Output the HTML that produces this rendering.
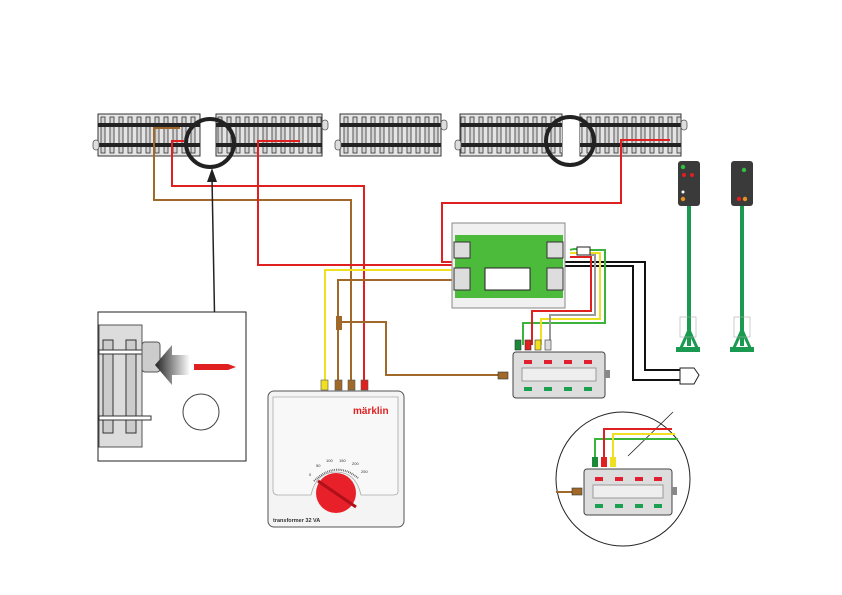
<!DOCTYPE html>
<html><head><meta charset="utf-8"><style>
html,body{margin:0;padding:0;background:#fff;}
svg{display:block;font-family:"Liberation Sans",sans-serif;}
</style></head><body>
<svg width="842" height="595" viewBox="0 0 842 595" xmlns="http://www.w3.org/2000/svg">
<defs>
<pattern id="ties" x="0" y="114" width="9" height="42" patternUnits="userSpaceOnUse">
<rect x="2" y="3" width="4" height="36" fill="#d4d4d4" stroke="#333" stroke-width="0.8"/>
</pattern>
<linearGradient id="arr" x1="1" y1="0" x2="0" y2="0"><stop offset="0" stop-color="#fff"/><stop offset="1" stop-color="#222"/></linearGradient>
</defs>

<!-- tracks -->
<g stroke="#333" stroke-width="1">
<rect x="98" y="114" width="102" height="42" fill="#e4e4e4"/>
<rect x="216" y="114" width="106" height="42" fill="#e4e4e4"/>
<rect x="340" y="114" width="101" height="42" fill="#e4e4e4"/>
<rect x="460" y="114" width="102" height="42" fill="#e4e4e4"/>
<rect x="580" y="114" width="101" height="42" fill="#e4e4e4"/>
</g>
<g>
<rect x="98" y="114" width="102" height="42" fill="url(#ties)"/>
<rect x="216" y="114" width="106" height="42" fill="url(#ties)"/>
<rect x="340" y="114" width="101" height="42" fill="url(#ties)"/>
<rect x="460" y="114" width="102" height="42" fill="url(#ties)"/>
<rect x="580" y="114" width="101" height="42" fill="url(#ties)"/>
</g>
<g fill="#222">
<rect x="98" y="123" width="102" height="4"/><rect x="98" y="143" width="102" height="4"/>
<rect x="216" y="123" width="106" height="4"/><rect x="216" y="143" width="106" height="4"/>
<rect x="340" y="123" width="101" height="4"/><rect x="340" y="143" width="101" height="4"/>
<rect x="460" y="123" width="102" height="4"/><rect x="460" y="143" width="102" height="4"/>
<rect x="580" y="123" width="101" height="4"/><rect x="580" y="143" width="101" height="4"/>
</g>
<g fill="#ddd" stroke="#555" stroke-width="0.8">
<rect x="93" y="140" width="6" height="10" rx="3"/><rect x="322" y="120" width="6" height="10" rx="3"/>
<rect x="335" y="140" width="6" height="10" rx="3"/><rect x="441" y="120" width="6" height="10" rx="3"/>
<rect x="455" y="140" width="6" height="10" rx="3"/><rect x="681" y="120" width="6" height="10" rx="3"/>
</g>

<!-- wires -->
<g fill="none" stroke-width="2">
<path d="M180 128 H154 V200 H351 V385" stroke="#a0692a"/>
<path d="M184 141 H172 V186 H364 V385" stroke="#e02020"/>
<path d="M300 141 H258 V265 H456" stroke="#e02020"/>
<path d="M325 385 V270 H455" stroke="#f0e020"/>
<path d="M338 385 V280 H455" stroke="#a0692a"/>
<path d="M340 322 H386 V375 H500" stroke="#a0692a"/>
<path d="M670 140 H621 V203 H442 V262 H456" stroke="#e02020"/>
<path d="M563 262 H645 V370 H685" stroke="#111"/>
<path d="M563 266 H633 V380 H685" stroke="#111"/>
<path d="M570 250 Q575 248 580 250 H605 V323 H523 V345" stroke="#3cb43c"/>
<path d="M570 253 H600 V319 H541 V345" stroke="#f0e020"/>
<path d="M590 255 H595 V315 H550 V345" stroke="#999"/>
<path d="M570 257 H591 V311 H532 V345" stroke="#e02020"/>
</g>
<rect x="577" y="247" width="13" height="8" fill="#fff" stroke="#222"/>

<!-- circles -->
<circle cx="210" cy="143" r="24" fill="none" stroke="#222" stroke-width="4"/>
<circle cx="570" cy="141" r="24" fill="none" stroke="#222" stroke-width="4"/>
<!-- pointer -->
<line x1="215" y1="340" x2="212" y2="178" stroke="#222" stroke-width="1.5"/>
<polygon points="212,168 207,182 217,182" fill="#222"/>

<!-- left inset -->
<rect x="98" y="312" width="148" height="149" fill="#fff" stroke="#222"/>
<rect x="99" y="325" width="43" height="122" fill="#dcdcdc" stroke="#555"/>
<rect x="103" y="340" width="10" height="93" fill="#ccc" stroke="#333"/>
<rect x="126" y="340" width="10" height="93" fill="#ccc" stroke="#333"/>
<rect x="99" y="350" width="52" height="4" fill="#fff" stroke="#333"/>
<rect x="99" y="416" width="52" height="4" fill="#fff" stroke="#333"/>
<rect x="142" y="342" width="18" height="30" fill="#ccc" stroke="#555" rx="3"/>
<polygon points="155,365 172,345 172,355 190,355 190,375 172,375 172,385" fill="url(#arr)"/>
<polygon points="194,364 228,364 236,367 228,370 194,370" fill="#e02020"/>
<circle cx="201" cy="412" r="18" fill="#fff" stroke="#444"/>

<!-- decoder -->
<rect x="452" y="223" width="113" height="85" fill="#f0f0f0" stroke="#888"/>
<rect x="455" y="235" width="108" height="63" fill="#4cbb3c"/>
<rect x="485" y="268" width="45" height="22" fill="#fff" stroke="#222"/>
<rect x="454" y="242" width="16" height="16" fill="#ddd" stroke="#333"/>
<rect x="454" y="268" width="16" height="22" fill="#ddd" stroke="#333"/>
<rect x="547" y="242" width="16" height="16" fill="#ddd" stroke="#333"/>
<rect x="547" y="268" width="16" height="22" fill="#ddd" stroke="#333"/>

<!-- keyboard -->
<g>
<rect x="515" y="340" width="6" height="10" fill="#1a8a3a" stroke="#333" stroke-width="0.6"/>
<rect x="525" y="340" width="6" height="10" fill="#e02020" stroke="#333" stroke-width="0.6"/>
<rect x="535" y="340" width="6" height="10" fill="#f0e020" stroke="#333" stroke-width="0.6"/>
<rect x="545" y="340" width="6" height="10" fill="#ddd" stroke="#333" stroke-width="0.6"/>
<rect x="513" y="352" width="92" height="46" rx="3" fill="#ddd" stroke="#444"/>
<rect x="522" y="368" width="74" height="13" fill="#eee" stroke="#999"/>
<g fill="#e02030"><rect x="524" y="360" width="8" height="4"/><rect x="544" y="360" width="8" height="4"/><rect x="564" y="360" width="8" height="4"/><rect x="584" y="360" width="8" height="4"/></g>
<g fill="#1aa050"><rect x="524" y="387" width="8" height="4"/><rect x="544" y="387" width="8" height="4"/><rect x="564" y="387" width="8" height="4"/><rect x="584" y="387" width="8" height="4"/></g>
<rect x="498" y="372" width="10" height="7" fill="#a0692a" stroke="#333" stroke-width="0.6"/>
<rect x="605" y="370" width="5" height="8" fill="#888"/>
</g>

<!-- plug -->
<path d="M680 368 H694 L699 375 L694 384 H680 Z" fill="#fff" stroke="#222"/>

<!-- signals -->
<rect x="678" y="161" width="22" height="45" rx="3" fill="#3a3a3a"/>
<circle cx="683" cy="167" r="2.2" fill="#30c040"/><circle cx="684" cy="175" r="2" fill="#e02020"/><circle cx="692" cy="175" r="2" fill="#e02020"/>
<circle cx="683" cy="199" r="2.2" fill="#e89020"/><circle cx="683" cy="192" r="1.5" fill="#fff"/>
<rect x="687" y="206" width="4" height="140" fill="#1a9a50"/>
<polygon points="689,330 680,350 698,350" fill="none" stroke="#1a9a50" stroke-width="3"/>
<rect x="676" y="347" width="24" height="5" fill="#1a9a50"/>
<rect x="680" y="317" width="16" height="20" fill="none" stroke="#aaa" stroke-width="0.6"/>
<rect x="731" y="161" width="22" height="45" rx="3" fill="#3a3a3a"/>
<circle cx="744" cy="170" r="2.2" fill="#30c040"/><circle cx="739" cy="199" r="2.2" fill="#e02020"/><circle cx="745" cy="199" r="2.2" fill="#e89020"/>
<rect x="740" y="206" width="4" height="140" fill="#1a9a50"/>
<polygon points="742,330 733,350 751,350" fill="none" stroke="#1a9a50" stroke-width="3"/>
<rect x="730" y="347" width="24" height="5" fill="#1a9a50"/>
<rect x="734" y="317" width="16" height="20" fill="none" stroke="#aaa" stroke-width="0.6"/>

<!-- transformer -->
<g>
<rect x="321" y="380" width="7" height="10" fill="#f0e020" stroke="#555" stroke-width="0.6"/>
<rect x="335" y="380" width="7" height="10" fill="#a0692a" stroke="#555" stroke-width="0.6"/>
<rect x="348" y="380" width="7" height="10" fill="#a0692a" stroke="#555" stroke-width="0.6"/>
<rect x="361" y="380" width="7" height="10" fill="#e02020" stroke="#555" stroke-width="0.6"/>
<rect x="336" y="316" width="6" height="14" fill="#a0692a"/>
<rect x="268" y="391" width="136" height="136" rx="6" fill="#f4f4f4" stroke="#555"/>
<path d="M273 397 H398 V492 Q398 495 393 495 H361 Q356 472 336 472 Q316 472 311 495 H278 Q273 495 273 490 Z" fill="#f8f8f8" stroke="#aaa" stroke-width="0.8"/>
<text x="353" y="414" font-size="10" font-weight="bold" fill="#e02020">märklin</text>
<g font-size="4" fill="#333"><text x="309" y="476">0</text><text x="316" y="467">50</text><text x="326" y="462">100</text><text x="339" y="462">150</text><text x="352" y="465">200</text><text x="361" y="473">250</text></g>
<path d="M314 481 Q336 460 358 478" fill="none" stroke="#555" stroke-width="2" stroke-dasharray="0.8 1"/>
<circle cx="336" cy="493" r="20" fill="#e8202a"/>
<line x1="318" y1="481" x2="356" y2="507" stroke="#b01018" stroke-width="3"/>
<text x="273" y="522" font-size="5.5" font-weight="bold" fill="#333">transformer 32 VA</text>
</g>

<!-- bottom right inset -->
<circle cx="623" cy="479" r="67" fill="#fff" stroke="#222"/>
<line x1="628" y1="456" x2="673" y2="412" stroke="#222" stroke-width="0.8"/>
<g fill="none" stroke-width="2">
<path d="M595 460 V439 H678" stroke="#3cb43c"/>
<path d="M604 460 V429 H672" stroke="#e02020"/>
<path d="M613 460 V434 H675" stroke="#f0e020"/>
</g>
<g>
<rect x="592" y="457" width="6" height="10" fill="#1a8a3a"/>
<rect x="601" y="457" width="6" height="10" fill="#e02020"/>
<rect x="610" y="457" width="6" height="10" fill="#f0e020"/>
<rect x="584" y="469" width="88" height="46" rx="3" fill="#ddd" stroke="#444"/>
<rect x="593" y="485" width="70" height="13" fill="#eee" stroke="#999"/>
<g fill="#e02030"><rect x="595" y="477" width="8" height="4"/><rect x="615" y="477" width="8" height="4"/><rect x="635" y="477" width="8" height="4"/><rect x="654" y="477" width="8" height="4"/></g>
<g fill="#1aa050"><rect x="595" y="504" width="8" height="4"/><rect x="615" y="504" width="8" height="4"/><rect x="635" y="504" width="8" height="4"/><rect x="654" y="504" width="8" height="4"/></g>
<line x1="556" y1="492" x2="572" y2="492" stroke="#a0692a" stroke-width="2"/>
<rect x="572" y="488" width="10" height="7" fill="#a0692a" stroke="#333" stroke-width="0.6"/>
<rect x="672" y="487" width="5" height="8" fill="#888"/>
</g>
</svg>
</body></html>
